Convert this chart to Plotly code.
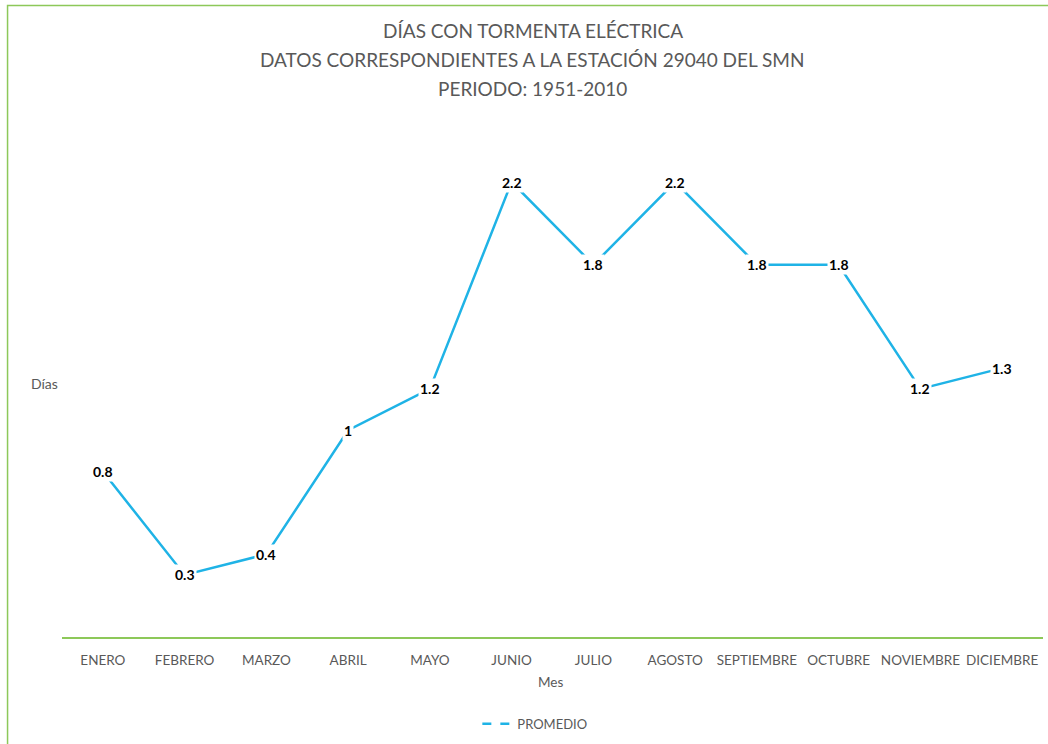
import plotly.graph_objects as go

months = ["ENERO", "FEBRERO", "MARZO", "ABRIL", "MAYO", "JUNIO", "JULIO",
          "AGOSTO", "SEPTIEMBRE", "OCTUBRE", "NOVIEMBRE", "DICIEMBRE"]
promedio = [0.8, 0.3, 0.4, 1.0, 1.2, 2.2, 1.8, 2.2, 1.8, 1.8, 1.2, 1.3]
title_lines = ["DÍAS CON TORMENTA ELÉCTRICA",
               "DATOS CORRESPONDIENTES A LA ESTACIÓN 29040 DEL SMN",
               "PERIODO: 1951-2010"]

LINE = "#1fb3e6"
GREEN = "#8dc859"
GRAY = "#595959"
FONT = "Lato, 'Open Sans', sans-serif"

fig = go.Figure()
fig.add_trace(go.Scatter(x=list(range(len(months))), y=promedio, mode="lines",
                         line=dict(color=LINE, width=2.5), showlegend=False,
                         hoverinfo="skip"))
# legend-only sample
fig.add_trace(go.Scatter(x=[None], y=[None], mode="lines", name="PROMEDIO",
                         line=dict(color=LINE, width=2.5, dash="dash")))

for i, v in enumerate(promedio):
    fig.add_annotation(x=i, y=v, xref="x", yref="y", text=f"<b>{v:g}</b>",
                       showarrow=False, bgcolor="white",
                       font=dict(family=FONT, size=14, color="black"),
                       borderpad=1)

# title lines (paper y: 0 at 637px, 1 at 119.5px)
for k, line in enumerate(title_lines):
    py = 30 + k * 29
    fig.add_annotation(x=0.48, xref="paper", y=(637 - py) / 517.5, yref="paper",
                       yanchor="middle", text=line, showarrow=False,
                       font=dict(family=FONT, size=19, color=GRAY))

fig.add_annotation(x=(44 - 62) / 981, xref="paper", xanchor="center",
                   y=(637 - 383) / 517.5, yref="paper", yanchor="middle",
                   text="Días", showarrow=False,
                   font=dict(family=FONT, size=14, color=GRAY))
fig.add_annotation(x=(550 - 62) / 981, xref="paper", y=(637 - 682) / 517.5,
                   yref="paper", yanchor="middle",
                   text="Mes", showarrow=False,
                   font=dict(family=FONT, size=13.5, color=GRAY))

fig.add_shape(type="rect", xref="paper", yref="paper",
              x0=-0.0555, x1=1.2, y0=-0.5, y1=1.2213,
              line=dict(color=GREEN, width=1.5), fillcolor="rgba(0,0,0,0)",
              layer="below")

fig.update_layout(
    width=1048, height=744,
    margin=dict(l=62, r=5, t=120, b=107),
    paper_bgcolor="white", plot_bgcolor="white",
    xaxis=dict(range=[-0.5, 11.5], tickmode="array",
               tickvals=list(range(len(months))), ticktext=months,
               showgrid=False, zeroline=False, showline=True,
               linecolor=GREEN, linewidth=2, ticks="",
               ticklabelstandoff=10,
               tickfont=dict(family=FONT, size=13.5, color=GRAY)),
    yaxis=dict(range=[0, 2.5], showgrid=False, zeroline=False,
               showticklabels=False, showline=False, ticks=""),
    legend=dict(orientation="h", x=0.482, xanchor="center",
                y=(637 - 724) / 517.5,
                yanchor="middle", font=dict(family=FONT, size=13, color=GRAY),
                itemwidth=30),
)

fig.write_html("out.html")
